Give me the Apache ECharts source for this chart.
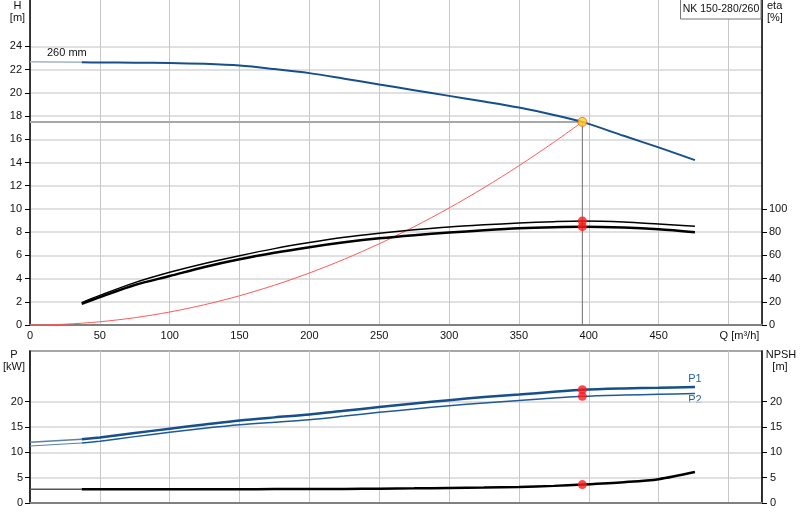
<!DOCTYPE html>
<html>
<head>
<meta charset="utf-8">
<script src="https://cdn.jsdelivr.net/npm/echarts@6/dist/echarts.min.js"></script>
<style>
html,body{margin:0;padding:0;background:#fff;}
#chart{width:800px;height:520px;}
</style>
</head>
<body>
<div id="chart"></div>
<script>
// pump curve NK 150-280/260
var qAxisTicks = [0, 50, 100, 150, 200, 250, 300, 350, 400, 450, 500];
var headTicks = [0, 2, 4, 6, 8, 10, 12, 14, 16, 18, 20, 22, 24];
var etaTicks = [0, 20, 40, 60, 80, 100];
var powerTicks = [0, 5, 10, 15, 20];

// operating point
var opQ = 395.4;
var opH = 17.5;
var opEta = [89.6, 84.7];
var opP = [22.36, 21.05];
var opNpsh = 3.63;

// flows for the curves inside the allowed range (37 .. 476 m3/h)
var qMain = [37, 50, 75, 100, 125, 150, 175, 200, 225, 250, 275, 300, 325, 350, 375, 395.4, 425, 450, 476];

// head curve (thin light part below min flow + main part)
var qExt = [0, 37];
var headExt = [22.67, 22.63];
var head = [22.63, 22.62, 22.6, 22.58, 22.5, 22.35, 22.05, 21.7, 21.22, 20.72, 20.23, 19.74, 19.25, 18.73, 18.1, 17.5, 16.3, 15.3, 14.2];

// system curve
var qSys = [0, 25, 50, 75, 100, 125, 150, 175, 200, 225, 250, 275, 300, 325, 350, 375, 395.4];
var hSys = [0, 0.07, 0.28, 0.63, 1.12, 1.75, 2.52, 3.43, 4.48, 5.67, 7.0, 8.47, 10.08, 11.83, 13.72, 15.75, 17.5];

// efficiency
var etaUpper = [19.3, 25.5, 36.5, 45.4, 53, 59.7, 65.8, 71, 75.5, 79, 82, 84.5, 86.3, 87.8, 89, 89.6, 88.8, 87, 85];
var etaLower = [18.3, 24, 34.5, 42.2, 50, 56.6, 62.2, 67, 71.2, 74.7, 77.4, 79.6, 81.6, 83.3, 84.3, 84.7, 84, 82.5, 79.9];

// power P1 / P2
var p1Ext = [11.97, 12.56];
var p2Ext = [11.25, 11.84];
var p1 = [12.56, 12.95, 13.8, 14.67, 15.5, 16.3, 16.9, 17.45, 18.2, 18.94, 19.65, 20.3, 20.9, 21.4, 21.95, 22.36, 22.62, 22.75, 22.9];
var p2 = [11.84, 12.2, 13.1, 13.95, 14.75, 15.45, 15.95, 16.45, 17.15, 17.89, 18.55, 19.2, 19.75, 20.25, 20.7, 21.05, 21.3, 21.45, 21.6];

// NPSH
var npshExt = [2.7, 2.7];
var npsh = [2.7, 2.7, 2.71, 2.72, 2.72, 2.73, 2.74, 2.75, 2.78, 2.83, 2.89, 2.97, 3.06, 3.18, 3.38, 3.63, 4.1, 4.7, 6.1];

function pairs(xs, ys){
    var out = [];
    for(var i=0;i<xs.length;i++){
        out.push([xs[i], ys[i]]);
    }
    return out;
}

var FONT = 'Liberation Sans, Arial, sans-serif';
var hGrid = {show:true, lineStyle:{color:'#d6d6d6', width:1.5}};
var vGrid = {show:true, lineStyle:{color:'#c8c8c8', width:1}};

var myChart = echarts.init(document.getElementById('chart'));

function line(x, y, xi, yi, color, width){
    return {
        type:'line', xAxisIndex:xi, yAxisIndex:yi,
        data:pairs(x, y), showSymbol:false, smooth:0.3,
        lineStyle:{color:color, width:width}, z:3
    };
}

function label(x, y, text, align, color){
    return {type:'text', x:x, y:y, style:{text:text, align:align, verticalAlign:'middle',
        font:'11px Liberation Sans', fill:color || '#111'}};
}

myChart.setOption({
    animation:false,
    grid:[
        {left:30, right:38, top:0, height:325},
        {left:30, right:38, top:351, height:152, show:true, borderColor:'#8a8a8a', borderWidth:1.5}
    ],
    xAxis:[
        {
            type:'value', gridIndex:0, min:0, max:524, interval:50,
            axisLine:{lineStyle:{color:'#808080', width:2}},
            axisTick:{show:false},
            axisLabel:{
                customValues:qAxisTicks, margin:5,
                fontFamily:FONT, fontSize:11, color:'#111',
                formatter:function(v){ return v === 500 ? '{q|Q [m³/h]}' : v; },
                rich:{q:{fontFamily:FONT, fontSize:11, color:'#111', padding:[0,0,0,22]}}
            },
            splitLine:vGrid
        },
        {
            type:'value', gridIndex:1, min:0, max:524, interval:50,
            axisLine:{lineStyle:{color:'#808080', width:2}},
            axisTick:{show:false}, axisLabel:{show:false},
            splitLine:vGrid
        }
    ],
    yAxis:[
        {
            type:'value', gridIndex:0, min:0, max:28, interval:2,
            axisLine:{show:true, lineStyle:{color:'#000', width:1.5}},
            axisTick:{show:true, length:5, customValues:headTicks, lineStyle:{color:'#000'}},
            axisLabel:{customValues:headTicks, fontFamily:FONT, fontSize:11, color:'#111'},
            splitLine:hGrid
        },
        {
            type:'value', gridIndex:0, position:'right', min:0, max:280, interval:20,
            axisLine:{show:true, lineStyle:{color:'#000', width:1.5}},
            axisTick:{show:true, length:5, customValues:etaTicks, lineStyle:{color:'#000'}},
            axisLabel:{customValues:etaTicks, margin:7, fontFamily:FONT, fontSize:11, color:'#111'},
            splitLine:{show:false}
        },
        {
            type:'value', gridIndex:1, min:0, max:30, interval:5,
            axisLine:{show:true, lineStyle:{color:'#000', width:1.5}},
            axisTick:{show:true, length:5, customValues:powerTicks, lineStyle:{color:'#000'}},
            axisLabel:{customValues:powerTicks, margin:7, fontFamily:FONT, fontSize:11, color:'#111'},
            splitLine:hGrid
        },
        {
            type:'value', gridIndex:1, position:'right', min:0, max:30, interval:5,
            axisLine:{show:true, lineStyle:{color:'#000', width:1.5}},
            axisTick:{show:true, length:5, customValues:powerTicks, lineStyle:{color:'#000'}},
            axisLabel:{customValues:powerTicks, margin:8, fontFamily:FONT, fontSize:11, color:'#111'},
            splitLine:{show:false}
        }
    ],
    series:[
        // helper lines to the operating point
        {type:'line', xAxisIndex:0, yAxisIndex:0, data:[[0, opH],[opQ, opH]], showSymbol:false,
            lineStyle:{color:'#a8a8a8', width:2}, z:2},
        {type:'line', xAxisIndex:0, yAxisIndex:0, data:[[opQ, opH],[opQ, 0]], showSymbol:false,
            lineStyle:{color:'#6e6e6e', width:1}, z:2},
        line(qExt, headExt, 0, 0, '#a3b4cb', 1.5),
        line(qMain, head, 0, 0, '#164f8c', 2),
        line(qSys, hSys, 0, 0, '#ff5a5a', 1),
        line(qMain, etaUpper, 0, 1, '#000', 1.5),
        line(qMain, etaLower, 0, 1, '#000', 2.5),
        line(qExt, p1Ext, 1, 2, '#5d7fa8', 1.5),
        line(qExt, p2Ext, 1, 2, '#5d7fa8', 1.2),
        line(qMain, p1, 1, 2, '#154f8c', 2.5),
        line(qMain, p2, 1, 2, '#1f5a96', 1.5),
        line(qExt, npshExt, 1, 3, '#555', 1.5),
        line(qMain, npsh, 1, 3, '#000', 2.5),
        {type:'scatter', xAxisIndex:0, yAxisIndex:1, symbolSize:9, z:6,
            itemStyle:{color:'#ff1a1a'}, data:[[opQ, opEta[0]],[opQ, opEta[1]]]},
        {type:'scatter', xAxisIndex:0, yAxisIndex:0, symbolSize:9, z:6,
            itemStyle:{color:'#ffd21f', borderColor:'#f05a1e', borderWidth:1}, data:[[opQ, opH]]},
        {type:'scatter', xAxisIndex:1, yAxisIndex:2, symbolSize:9, z:6,
            itemStyle:{color:'#ff1a1a'}, data:[[opQ, opP[0]],[opQ, opP[1]]]},
        {type:'scatter', xAxisIndex:1, yAxisIndex:3, symbolSize:9, z:6,
            itemStyle:{color:'#ff1a1a'}, data:[[opQ, opNpsh]]}
    ],
    graphic:[
        label(17.5, 6, 'H', 'center'),
        label(17.5, 18, '[m]', 'center'),
        label(767, 6, 'eta', 'left'),
        label(767, 18, '[%]', 'left'),
        label(47, 53, '260 mm', 'left'),
        {type:'rect', shape:{x:680.5, y:-1, width:80.5, height:20}, style:{fill:'#fff', stroke:'#777', lineWidth:1}, z:10},
        {type:'text', x:721, y:9.5, z:11, style:{text:'NK 150-280/260', align:'center', verticalAlign:'middle',
            font:'10.5px Liberation Sans', fill:'#111'}},
        label(14, 355, 'P', 'center'),
        label(14, 367, '[kW]', 'center'),
        label(781, 355, 'NPSH', 'center'),
        label(780, 367, '[m]', 'center'),
        label(695, 379, 'P1', 'center', '#2a5f9e'),
        label(695, 400, 'P2', 'center', '#2a5f9e')
    ]
});
</script>
</body>
</html>
